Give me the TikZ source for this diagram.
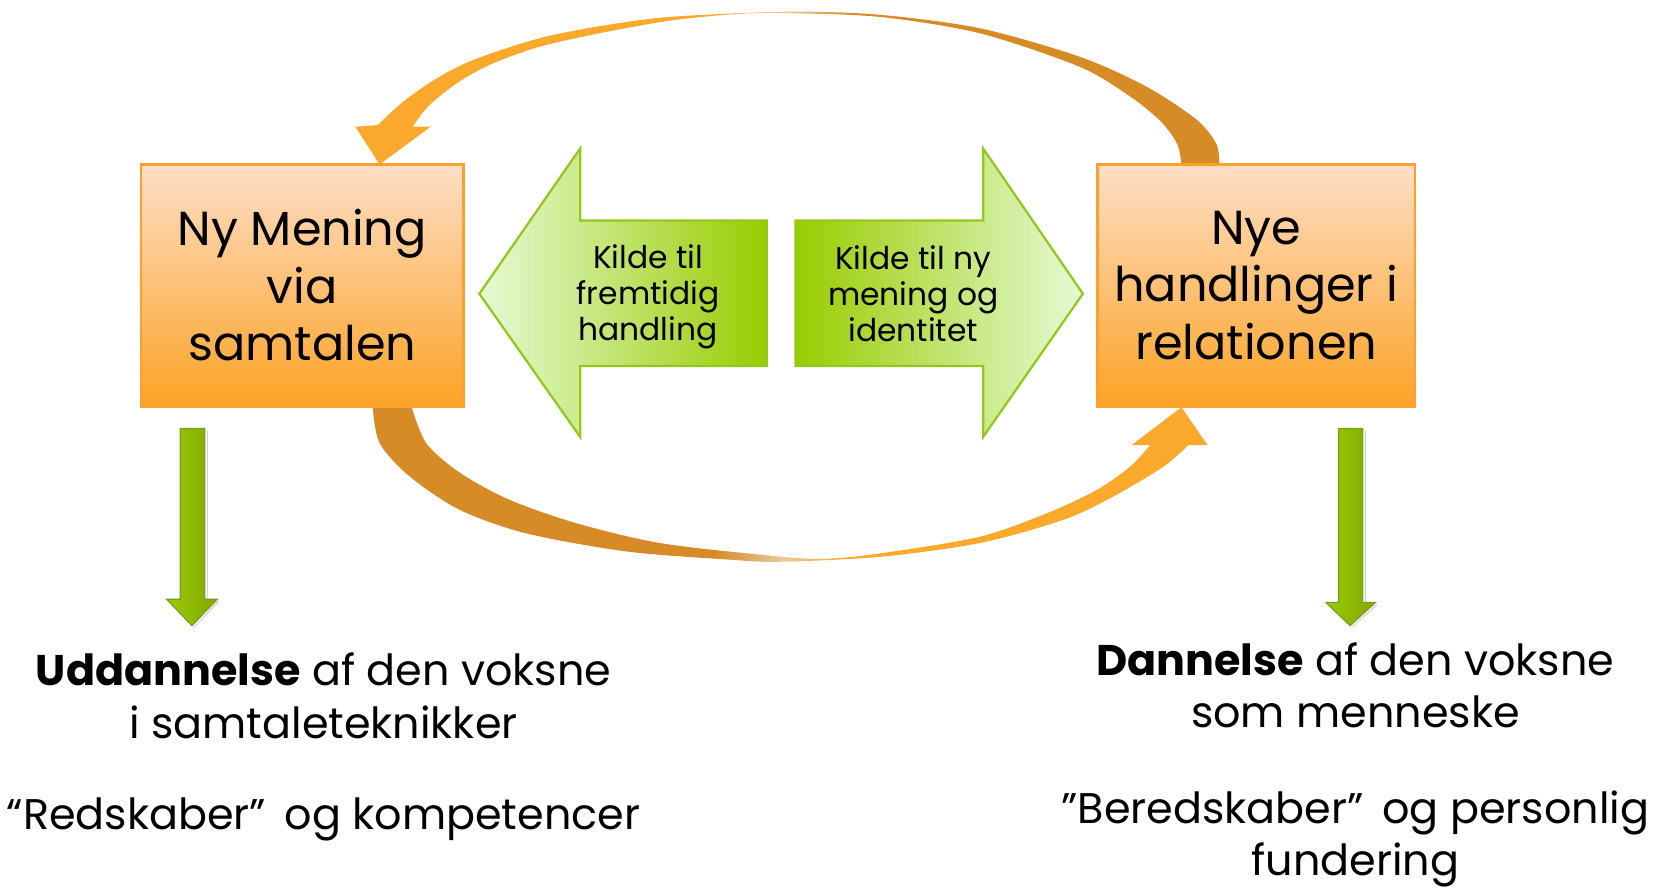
\documentclass[tikz,border=0pt]{standalone}
\usepackage{fontspec}
\setmainfont{Poppins}
\definecolor{boxtop}{HTML}{FDDEC6}
\definecolor{boxbot}{HTML}{FCA326}
\definecolor{boxline}{HTML}{F9A030}
\definecolor{gtip}{HTML}{E6FAD6}
\definecolor{gmid}{HTML}{C9FF8A}
\definecolor{gend}{HTML}{99CC00}
\definecolor{gline}{HTML}{92C81A}
\definecolor{orlight}{HTML}{FBA92C}
\definecolor{ordark}{HTML}{D68B26}
\definecolor{ormid}{HTML}{E9C79A}
\definecolor{vleft}{HTML}{9CCB08}
\definecolor{vmid}{HTML}{BDE83A}
\definecolor{vright}{HTML}{7FA600}
\definecolor{vline}{HTML}{7C9C1C}
\pgfdeclarehorizontalshading{toparc}{100bp}{color(0bp)=(orlight); color(25bp)=(orlight); color(46bp)=(orlight); color(50bp)=(ormid); color(54bp)=(ordark); color(75bp)=(ordark); color(100bp)=(ordark)}
\pgfdeclarehorizontalshading{botarc}{100bp}{color(0bp)=(ordark); color(25bp)=(ordark); color(45.5bp)=(ordark); color(49.5bp)=(ormid); color(53.5bp)=(orlight); color(75bp)=(orlight); color(100bp)=(orlight)}
\tikzset{
  obox/.style={draw=boxline, line width=0.7pt, top color=boxtop, bottom color=boxbot,
    minimum width=3.04cm, minimum height=2.28cm, inner sep=0pt, align=center,
    font=\fontsize{12.8}{15.4}\selectfont},
  gtext/.style={align=center, inner sep=0pt, font=\fontsize{8.4}{9.6}\selectfont},
  btext/.style={align=center, inner sep=0pt, font=\fontsize{11.5}{14}\selectfont},
  vdown/.style={left color=vleft, middle color=vmid, right color=vright, draw=vline, line width=0.3pt}
}
\begin{document}
\begin{tikzpicture}[x=0.01cm,y=-0.01cm]
\useasboundingbox (0,0) rectangle (1568,837);

% top curved arrow (right box -> left box)
\shade[shading=toparc]
  plot[smooth, tension=0.5] coordinates {(1149.7,155) (1147,136) (1128.5,113) (1081,81.7) (1018,53.5) (924,26.7) (830,14) (745,11) (635,15.7) (572,23.6) (509,36) (446,56.6) (410,75) (380,96) (356,118)}
  -- (335,119.5) -- (358,155) -- (406,119.5) -- (389,119.5)
  -- plot[smooth, tension=0.5] coordinates {(389,119.5) (404,100) (430.6,78.6) (462,61) (509,44) (572,30) (635,19) (698,13) (745,12.5) (830,16) (924,31.4) (1018,63) (1065.6,91) (1095,115) (1110,136) (1114,155)}
  -- cycle;

% bottom curved arrow (left box -> right box)
\shade[shading=botarc]
  plot[smooth, tension=0.5] coordinates {(351.4,383.5) (358,418) (386.6,449.5) (434,481) (496.6,503) (591,520) (685,527.5) (735,529.7) (830,525) (924,512) (1003,490) (1050,468) (1097,440) (1120.6,419.6)}
  -- (1138.5,419.6) -- (1114,384) -- (1067,419.6) -- (1084.5,419.6)
  -- plot[smooth, tension=0.5] coordinates {(1084.5,419.6) (1065.6,440) (1034,462) (987,484) (924,506) (830,521.8) (773,527) (717,523) (622,512) (544,493.5) (481,471.5) (434,446) (402,418) (388,383.5)}
  -- cycle;

% boxes
\node[obox] (L) at (285,269) {Ny Mening\\via\\samtalen};
\node[obox, minimum width=2.99cm] (R) at (1184.5,269) {Nye\\handlinger i\\relationen};

% big green arrows
\shadedraw[left color=gtip, middle color=gmid, right color=gend, draw=gline, line width=0.6pt, line join=miter]
  (452,277) -- (547,140) -- (547,208) -- (723,208) -- (723,345) -- (547,345) -- (547,412) -- cycle;
\shadedraw[left color=gend, middle color=gmid, right color=gtip, draw=gline, line width=0.6pt, line join=miter]
  (1021,277) -- (927,140) -- (927,208) -- (750,208) -- (750,345) -- (927,345) -- (927,412) -- cycle;
\node[gtext] (GL) at (611,280) {Kilde til\\fremtidig\\handling};
\node[gtext] (GR) at (861,277) {Kilde til ny\\mening og\\identitet};

% vertical green arrows (with faint shadow)
\fill[black!18] (195,406) -- (196,406) -- (196,567) -- (207,567) -- (183,592) -- (182,592) -- (205,567) -- (195,567) -- cycle;
\fill[black!18] (1287,406) -- (1288,406) -- (1288,570) -- (1299,570) -- (1275,592) -- (1274,592) -- (1297,570) -- (1287,570) -- cycle;
\shadedraw[vdown] (170,404) -- (193,404) -- (193,565) -- (205,565) -- (181,590) -- (157,565) -- (170,565) -- cycle;
\shadedraw[vdown] (1262,404) -- (1285,404) -- (1285,568) -- (1297,568) -- (1273,590) -- (1250,568) -- (1262,568) -- cycle;

% bottom texts
\node[btext] (BL1) at (305,656) {\textbf{Uddannelse} af den voksne\\i samtaleteknikker};
\node[btext, anchor=base] (BL2) at (305,782) {“Redskaber”\, og kompetencer};
\node[btext] (BR1) at (1278,646) {\textbf{Dannelse} af den voksne\\som menneske};
\node[btext] (BR2) at (1278,791) {”Beredskaber”\, og personlig\\fundering};
\end{tikzpicture}
\end{document}
